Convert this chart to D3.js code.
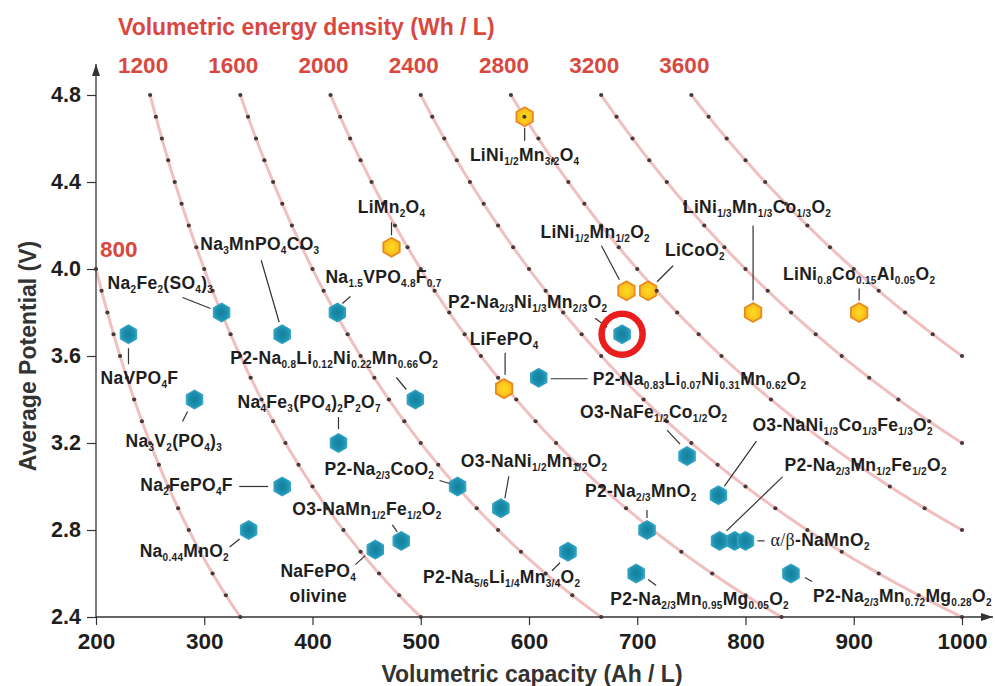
<!DOCTYPE html>
<html>
<head>
<meta charset="utf-8">
<script src="https://cdn.jsdelivr.net/npm/d3@7"></script>
<style>
  body { margin: 0; background: #fff; }
  svg text { font-family: "Liberation Sans", Arial, Helvetica, sans-serif; }
</style>
</head>
<body>
<svg id="chart" width="995" height="686"></svg>
<script>
// ---- axis ticks ----
const capacityTicks = [200, 300, 400, 500, 600, 700, 800, 900, 1000];
const potentialTicks = [2.4, 2.8, 3.2, 3.6, 4.0, 4.4, 4.8];
// iso-energy curves, Wh/L = V x Ah/L
const energyLevels = [800, 1200, 1600, 2000, 2400, 2800, 3200, 3600];

// ---- Li-ion cathodes (Ah/L, V) ----
const liNames = [
  "LiNi_{1/2}Mn_{3/2}O_{4}", "LiMn_{2}O_{4}", "LiNi_{1/2}Mn_{1/2}O_{2}", "LiCoO_{2}",
  "LiNi_{1/3}Mn_{1/3}Co_{1/3}O_{2}", "LiNi_{0.8}Co_{0.15}Al_{0.05}O_{2}", "LiFePO_{4}"
];
const liCapacity = [596, 473, 690, 710, 807, 905, 577];
const liPotential = [4.70, 4.10, 3.90, 3.90, 3.80, 3.80, 3.45];

// ---- Na-ion cathodes (Ah/L, V) ----
const naNames = [
  "NaVPO_{4}F", "Na_{2}Fe_{2}(SO_{4})_{3}", "Na_{3}MnPO_{4}CO_{3}", "Na_{1.5}VPO_{4.8}F_{0.7}",
  "Na_{3}V_{2}(PO_{4})_{3}", "P2-Na_{0.8}Li_{0.12}Ni_{0.22}Mn_{0.66}O_{2}",
  "Na_{4}Fe_{3}(PO_{4})_{2}P_{2}O_{7}", "P2-Na_{2/3}Ni_{1/3}Mn_{2/3}O_{2}",
  "P2-Na_{0.83}Li_{0.07}Ni_{0.31}Mn_{0.62}O_{2}", "O3-NaFe_{1/2}Co_{1/2}O_{2}",
  "O3-NaNi_{1/3}Co_{1/3}Fe_{1/3}O_{2}", "P2-Na_{2/3}CoO_{2}", "O3-NaNi_{1/2}Mn_{1/2}O_{2}",
  "Na_{2}FePO_{4}F", "Na_{0.44}MnO_{2}", "O3-NaMn_{1/2}Fe_{1/2}O_{2}", "NaFePO_{4}|olivine",
  "P2-Na_{2/3}MnO_{2}", "P2-Na_{2/3}Mn_{1/2}Fe_{1/2}O_{2}", "~{α/β}-NaMnO_{2}", "~{α/β}-NaMnO_{2}",
  "P2-Na_{5/6}Li_{1/4}Mn_{3/4}O_{2}", "P2-Na_{2/3}Mn_{0.95}Mg_{0.05}O_{2}",
  "P2-Na_{2/3}Mn_{0.72}Mg_{0.28}O_{2}"
];
const naCapacity = [230, 316, 372, 423, 291, 495, 424, 686, 609, 746, 775, 534, 574, 372, 341,
  482, 458, 709, 776, 790, 800, 636, 699, 842];
const naPotential = [3.70, 3.80, 3.70, 3.80, 3.40, 3.40, 3.20, 3.70, 3.50, 3.14, 2.96, 3.00, 2.90,
  3.00, 2.80, 2.75, 2.71, 2.80, 2.75, 2.75, 2.75, 2.70, 2.60, 2.60];

const highlighted = "P2-Na_{2/3}Ni_{1/3}Mn_{2/3}O_{2}";

// ---- label placement: anchor, text offset from the marker, leader line ----
const labelLayout = new Map([
  ["LiNi_{1/2}Mn_{3/2}O_{4}", { a: "middle", dx: 0, dy: 44, ln: [0, 11, 0, 24] }],
  ["LiMn_{2}O_{4}", { a: "middle", dx: 0, dy: -34, ln: [0, -25, 0, -12] }],
  ["LiNi_{1/2}Mn_{1/2}O_{2}", { a: "start", dx: -86, dy: -53, ln: [-25, -45, -7, -11] }],
  ["LiCoO_{2}", { a: "start", dx: 17, dy: -35, ln: [25, -25, 9, -9] }],
  ["LiNi_{1/3}Mn_{1/3}Co_{1/3}O_{2}", { a: "middle", dx: 4, dy: -100, ln: [0, -87, 0, -12] }],
  ["LiNi_{0.8}Co_{0.15}Al_{0.05}O_{2}", { a: "middle", dx: 0, dy: -33, ln: [0, -24, 0, -12] }],
  ["LiFePO_{4}", { a: "middle", dx: 0, dy: -44, ln: [1, -36, 1, -14] }],
  ["NaVPO_{4}F", { a: "middle", dx: 11, dy: 50, ln: [0, 14, 0, 30] }],
  ["Na_{2}Fe_{2}(SO_{4})_{3}", { a: "start", dx: -114, dy: -24, ln: [-39, -15, -11, -4] }],
  ["Na_{3}MnPO_{4}CO_{3}", { a: "start", dx: -82, dy: -84, ln: [-21, -74, -3, -12] }],
  ["Na_{1.5}VPO_{4.8}F_{0.7}", { a: "start", dx: -12, dy: -30, ln: [13, -16, 5, -9] }],
  ["Na_{3}V_{2}(PO_{4})_{3}", { a: "start", dx: -69, dy: 47, ln: [-12, 22, -7, 12] }],
  ["P2-Na_{0.8}Li_{0.12}Ni_{0.22}Mn_{0.66}O_{2}", { a: "start", dx: -185, dy: -36, ln: [-19, -22, -9, -10] }],
  ["Na_{4}Fe_{3}(PO_{4})_{2}P_{2}O_{7}", { a: "start", dx: -101, dy: -35, ln: [0, -26, 0, -14] }],
  ["P2-Na_{2/3}Ni_{1/3}Mn_{2/3}O_{2}", { a: "start", dx: -174, dy: -26, ln: [-27, -16, -15, -7] }],
  ["P2-Na_{0.83}Li_{0.07}Ni_{0.31}Mn_{0.62}O_{2}", { a: "start", dx: 54, dy: 7, ln: [12, 1, 49, 1] }],
  ["O3-NaFe_{1/2}Co_{1/2}O_{2}", { a: "start", dx: -107, dy: -38, ln: [-20, -26, -7, -12] }],
  ["O3-NaNi_{1/3}Co_{1/3}Fe_{1/3}O_{2}", { a: "start", dx: 34, dy: -64, ln: [38, -54, 6, -9] }],
  ["P2-Na_{2/3}CoO_{2}", { a: "start", dx: -133, dy: -12, ln: [-18, -6, -8, -3] }],
  ["O3-NaNi_{1/2}Mn_{1/2}O_{2}", { a: "start", dx: -40, dy: -41, ln: [8, -32, 4, -10] }],
  ["Na_{2}FePO_{4}F", { a: "start", dx: -142, dy: 4, ln: [-43, 0, -14, 0] }],
  ["Na_{0.44}MnO_{2}", { a: "start", dx: -109, dy: 27, ln: [-19, 17, -9, 9] }],
  ["O3-NaMn_{1/2}Fe_{1/2}O_{2}", { a: "start", dx: -109, dy: -26, ln: [-9, -16, -4, -9] }],
  ["NaFePO_{4}|olivine", { a: "middle", dx: -57, dy: 27, ln: [-20, 15, -10, 6] }],
  ["P2-Na_{2/3}MnO_{2}", { a: "start", dx: -62, dy: -33, ln: [0, -20, 0, -12] }],
  ["P2-Na_{2/3}Mn_{1/2}Fe_{1/2}O_{2}", { a: "start", dx: 65, dy: -70, ln: [63, -64, 7, -10] }],
  ["~{α/β}-NaMnO_{2}", { a: "start", dx: 25, dy: 5, ln: [12, 0, 19, 0] }],
  ["P2-Na_{5/6}Li_{1/4}Mn_{3/4}O_{2}", { a: "start", dx: -145, dy: 31, ln: [-16, 19, -8, 11] }],
  ["P2-Na_{2/3}Mn_{0.95}Mg_{0.05}O_{2}", { a: "start", dx: -26, dy: 31, ln: [12, 6, 20, 12] }],
  ["P2-Na_{2/3}Mn_{0.72}Mg_{0.28}O_{2}", { a: "start", dx: 22, dy: 28, ln: [14, 4, 21, 8] }]
]);

// ---- setup ----
const svg = d3.select("#chart");
const x = d3.scaleLinear().domain([200, 1000]).range([96, 962]);
const y = d3.scaleLinear().domain([2.4, 4.8]).range([617, 95]);
const RED = "#d9483f";
const INK = "#1e1e1e";

const defs = svg.append("defs");
const gBlue = defs.append("radialGradient").attr("id", "naFill");
gBlue.append("stop").attr("offset", "0%").attr("stop-color", "#137f9a");
gBlue.append("stop").attr("offset", "75%").attr("stop-color", "#1d92b2");
gBlue.append("stop").attr("offset", "100%").attr("stop-color", "#3aa8c6");
const gOr = defs.append("radialGradient").attr("id", "liFill");
gOr.append("stop").attr("offset", "0%").attr("stop-color", "#ffdc1e");
gOr.append("stop").attr("offset", "100%").attr("stop-color", "#f8b91e");
defs.append("marker").attr("id", "arrow").attr("viewBox", "0 0 12 8")
  .attr("refX", 12).attr("refY", 4).attr("markerWidth", 12).attr("markerHeight", 8)
  .attr("markerUnits", "userSpaceOnUse").attr("orient", "auto")
  .append("path").attr("d", "M0,0 L12,4 L0,8 Z").attr("fill", "#333");

// ---- iso-energy curves ----
const curves = energyLevels.map(E => {
  const vMin = Math.max(2.4, E / 1000), vMax = Math.min(4.8, E / 200);
  const line = d3.range(0, 121).map(i => vMax - (vMax - vMin) * i / 120).map(v => [E / v, v]);
  const dots = [];
  for (let k = Math.round(vMax * 10); k >= Math.round(vMin * 10); k--) dots.push([E / (k / 10), k / 10]);
  return { E, vMax, line, dots };
});
const lineGen = d3.line().x(d => x(d[0])).y(d => y(d[1]));
svg.append("g").selectAll("path").data(curves).join("path")
  .attr("d", d => lineGen(d.line)).attr("fill", "none")
  .attr("stroke", "#f0c0c0").attr("stroke-width", 3);

// curve labels
svg.append("text").attr("x", 118).attr("y", 35).attr("fill", RED)
  .attr("font-size", 23).attr("font-weight", "bold").text("Volumetric energy density (Wh / L)");
curves.forEach(c => {
  const top = c.vMax >= 4.8;
  svg.append("text")
    .attr("x", top ? x(c.E / c.vMax) - 7 : x(c.E / c.vMax) + 4)
    .attr("y", top ? 73 : y(c.vMax) - 12)
    .attr("text-anchor", top ? "middle" : "start")
    .attr("fill", RED).attr("font-size", 22.5).attr("font-weight", "bold").text(c.E);
});

// ---- axes ----
const gx = svg.append("g").attr("transform", `translate(0,${y(2.4)})`)
  .call(d3.axisBottom(x).tickValues(capacityTicks).tickFormat(d3.format("d"))
    .tickSize(8).tickSizeOuter(0).tickPadding(8));
const gy = svg.append("g").attr("transform", `translate(${x(200)},0)`)
  .call(d3.axisLeft(y).tickValues(potentialTicks).tickFormat(d3.format(".1f"))
    .tickSize(9).tickSizeOuter(0).tickPadding(6));
[gx, gy].forEach(g => {
  g.select(".domain").remove();
  g.selectAll(".tick line").attr("stroke", "#333").attr("stroke-width", 1.2);
  g.selectAll(".tick text").attr("fill", INK).attr("font-size", 22.5).attr("font-weight", "bold")
    .attr("font-family", "'Liberation Sans', Arial, sans-serif");
});
gy.selectAll(".tick text").attr("font-size", 21.5);
svg.append("line").attr("x1", x(200)).attr("y1", y(2.4)).attr("x2", 993).attr("y2", y(2.4))
  .attr("stroke", "#333").attr("stroke-width", 1.3).attr("marker-end", "url(#arrow)");
svg.append("line").attr("x1", x(200)).attr("y1", y(2.4)).attr("x2", x(200)).attr("y2", 64)
  .attr("stroke", "#333").attr("stroke-width", 1.3).attr("marker-end", "url(#arrow)");

svg.append("text").attr("x", 532).attr("y", 682).attr("text-anchor", "middle")
  .attr("fill", "#333").attr("font-size", 23).attr("font-weight", "bold")
  .text("Volumetric capacity (Ah / L)");
svg.append("text").attr("transform", `translate(36,${(y(2.4) + y(4.8)) / 2}) rotate(-90)`)
  .attr("text-anchor", "middle").attr("fill", "#333").attr("font-size", 23).attr("font-weight", "bold")
  .text("Average Potential (V)");

// ---- markers ----
const points = [
  ...liNames.map((n, i) => ({ name: n, c: liCapacity[i], v: liPotential[i], li: true })),
  ...naNames.map((n, i) => ({ name: n, c: naCapacity[i], v: naPotential[i], li: false }))
];
const hex = r => "M" + d3.range(6).map(k => {
  const t = Math.PI / 180 * (60 * k - 90);
  return [r * Math.cos(t), r * Math.sin(t)].join(",");
}).join("L") + "Z";

function drawMarkers(data) {
  svg.append("g").selectAll("path").data(data).join("path")
    .attr("transform", d => `translate(${x(d.c)},${y(d.v)})`)
    .attr("d", hex(9.5))
    .attr("fill", d => d.li ? "url(#liFill)" : "url(#naFill)")
    .attr("stroke", d => d.li ? "#e88a1c" : "#2f9fbe")
    .attr("stroke-width", d => d.li ? 1.8 : 1);
}
// Li markers sit under the curve dots, Na markers over them
drawMarkers(points.filter(p => p.li));
svg.append("g").selectAll("circle").data(curves.flatMap(c => c.dots)).join("circle")
  .attr("cx", d => x(d[0])).attr("cy", d => y(d[1])).attr("r", 2.1).attr("fill", "#4a3838");
drawMarkers(points.filter(p => !p.li));

// ---- labels ----
const SUB = 4;
function richText(sel, markup) {
  const parts = markup.split(/(_\{[^}]*\}|~\{[^}]*\})/).filter(s => s.length);
  let down = false;
  parts.forEach(p => {
    const isSub = p.startsWith("_{"), isSerif = p.startsWith("~{");
    const t = sel.append("tspan").text(isSub || isSerif ? p.slice(2, -1) : p);
    if (isSub) {
      t.attr("font-size", 10);
      if (!down) { t.attr("dy", SUB); down = true; }
    } else {
      if (isSerif) t.attr("font-family", "'Liberation Serif', 'Times New Roman', serif")
        .attr("font-weight", "normal").attr("font-size", 18);
      if (down) { t.attr("dy", -SUB); down = false; }
    }
  });
}

const gLab = svg.append("g");
const anchorOf = new Map();
points.forEach(p => anchorOf.set(p.name, p)); // last marker of a name carries its label
anchorOf.forEach((p, name) => {
  const L = labelLayout.get(name);
  if (!L) return;
  const px = x(p.c), py = y(p.v);
  gLab.append("line")
    .attr("x1", px + L.ln[0]).attr("y1", py + L.ln[1]).attr("x2", px + L.ln[2]).attr("y2", py + L.ln[3])
    .attr("stroke", "#333").attr("stroke-width", 1.2);
  name.split("|").forEach((line, i) => {
    const t = gLab.append("text").attr("x", px + L.dx).attr("y", py + L.dy + i * 25)
      .attr("text-anchor", L.a).attr("fill", INK).attr("font-size", 17.5)
      .attr("font-weight", "bold").attr("letter-spacing", 0.3);
    richText(t, line);
  });
});

// highlighted cathode
const hp = points.find(p => p.name === highlighted);
svg.append("circle").attr("cx", x(hp.c)).attr("cy", y(hp.v)).attr("r", 20.5)
  .attr("fill", "none").attr("stroke", "#ea1c1c").attr("stroke-width", 6.5);
</script>
</body>
</html>
